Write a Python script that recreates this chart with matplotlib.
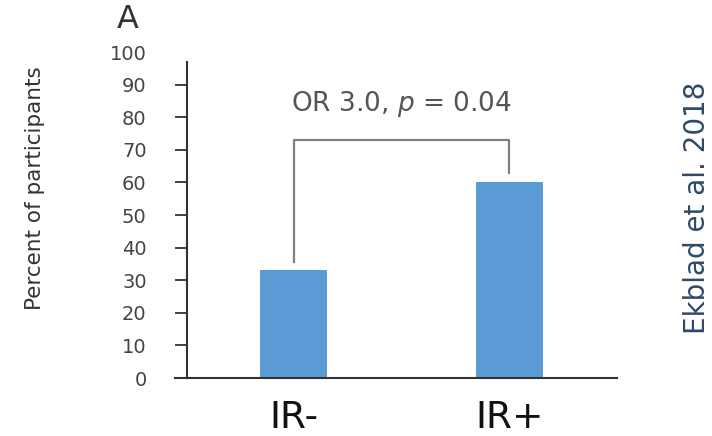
import matplotlib.pyplot as plt

groups = ["IR-", "IR+"]
percent = [33, 60]
y_ticks = [0, 10, 20, 30, 40, 50, 60, 70, 80, 90, 100]
bracket_top = 73
bracket_ends = [35.5, 63]
stat_label = r"OR 3.0, $\it{p}$ = 0.04"

fig = plt.figure(figsize=(7.12, 4.36), dpi=100)
ax = fig.add_axes([187/712, 1-378/436, (617-187)/712, (378-52)/436])

x = list(range(len(groups)))
ax.bar(x, percent, width=0.31, color="#5b9bd5", zorder=2)

# significance bracket
ax.plot([x[0], x[0], x[1], x[1]],
        [bracket_ends[0], bracket_top, bracket_top, bracket_ends[1]],
        color="#808080", lw=1.6, zorder=3)
ax.text((x[0]+x[1])/2, 84, stat_label, ha="center", va="center",
        fontsize=19, color="#555555")

ax.set_xlim(-0.494, 1.50)
ax.set_ylim(0, 100)
ax.set_yticks(y_ticks)
ax.set_yticklabels([str(t) for t in y_ticks], fontsize=14, color="#444444")
ax.yaxis.get_major_ticks()[-1].tick1line.set_visible(False)
ax.tick_params(axis="y", length=9, width=1.3, color="#333333", pad=20)
ax.set_xticks(x)
ax.set_xticklabels(groups, fontsize=27, color="#111111")
ax.tick_params(axis="x", length=0, pad=16)

for s in ["top", "right"]:
    ax.spines[s].set_visible(False)
ax.spines["left"].set_bounds(0, 97)
ax.spines["left"].set_color("#333333")
ax.spines["left"].set_linewidth(1.5)
ax.spines["bottom"].set_color("#333333")
ax.spines["bottom"].set_linewidth(1.5)

# bottom line extends past the spine to the left, like the other ticks
ax.plot([-0.494 - 12/215.5, -0.494], [0, 0], color="#333333", lw=1.5,
        clip_on=False)

fig.text(35/712, 1-188/436, "Percent of participants", rotation=90,
         ha="center", va="center", fontsize=15.5, color="#333333")
fig.text(128/712, 1-19/436, "A", ha="center", va="center",
         fontsize=23, color="#333333")
fig.text(697/712, 1-208/436, "Ekblad et al. 2018", rotation=90,
         ha="center", va="center", fontsize=20, color="#2e4a66")

fig.savefig("out.png", dpi=100)
